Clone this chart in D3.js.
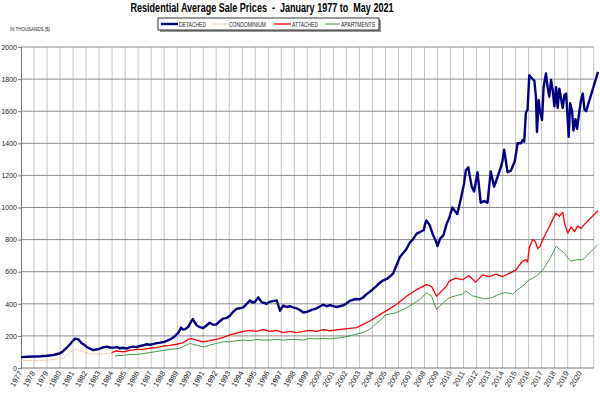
<!DOCTYPE html>
<html><head><meta charset="utf-8">
<script src="https://cdn.jsdelivr.net/npm/d3@7"></script>
<style>html,body{margin:0;padding:0;background:#fff;} svg{display:block;}</style>
</head><body>
<svg id="c" width="600" height="400"></svg>
<script>
const title = "Residential Average Sale Prices  -  January 1977 to  May 2021";
const unitLabel = "IN THOUSANDS ($)";
const seriesNames = ["DETACHED", "CONDOMINIUM", "ATTACHED", "APARTMENTS"];
const yTicks = [0,200,400,600,800,1000,1200,1400,1600,1800,2000];
const yearLabels = d3.range(1977, 2021);

// [year, price in thousands]
const detached = [
[1977.0,68],[1977.5,70],[1978.0,72],[1978.5,73],[1979.0,76],[1979.5,81],[1980.0,92],[1980.25,106],[1980.5,125],[1980.76,148],
[1981.0,170],[1981.14,183],[1981.3,180],[1981.4,179],[1981.55,165],[1981.66,154],[1981.85,145],[1982.04,133],[1982.3,120],[1982.55,112],
[1982.8,115],[1983.06,121],[1983.3,128],[1983.58,133],[1983.85,128],[1984.1,127],[1984.35,130],[1984.6,123],[1984.85,126],[1985.1,121],
[1985.35,128],[1985.6,133],[1985.85,130],[1986.1,137],[1986.35,140],[1986.6,148],[1986.9,145],[1987.2,150],[1987.45,155],[1987.7,158],
[1988.0,163],[1988.2,169],[1988.45,178],[1988.7,190],[1988.9,205],[1989.1,221],[1989.3,252],[1989.45,240],[1989.6,242],[1989.85,255],
[1990.0,280],[1990.2,305],[1990.35,285],[1990.5,265],[1990.75,255],[1991.0,249],[1991.25,265],[1991.5,282],[1991.75,270],[1992.0,271],
[1992.25,290],[1992.54,308],[1992.8,312],[1993.05,325],[1993.3,350],[1993.56,368],[1993.8,372],[1994.08,378],[1994.35,400],[1994.59,421],
[1994.8,408],[1994.97,411],[1995.23,440],[1995.48,411],[1995.7,405],[1995.87,400],[1996.05,410],[1996.25,415],[1996.45,418],[1996.64,421],
[1996.9,357],[1997.15,389],[1997.4,380],[1997.66,385],[1997.9,378],[1998.17,372],[1998.45,360],[1998.69,346],[1998.95,350],[1999.2,357],
[1999.45,365],[1999.71,372],[2000.0,385],[2000.22,394],[2000.5,385],[2000.73,392],[2001.0,385],[2001.24,380],[2001.5,385],[2001.75,390],
[2002.0,402],[2002.25,418],[2002.5,425],[2002.75,430],[2003.0,428],[2003.3,440],[2003.5,457],[2003.8,475],[2004.0,488],[2004.3,510],
[2004.55,530],[2004.8,545],[2005.1,555],[2005.35,570],[2005.6,590],[2005.85,640],[2006.1,690],[2006.35,715],[2006.6,740],[2006.9,785],
[2007.1,800],[2007.4,837],[2007.65,847],[2007.95,860],[2008.05,898],[2008.15,919],[2008.4,890],[2008.65,830],[2008.9,785],[2009.0,760],
[2009.2,806],[2009.45,826],[2009.7,898],[2009.88,930],[2010.14,1000],[2010.52,960],[2010.78,1050],[2011.04,1150],[2011.17,1230],[2011.37,1250],
[2011.47,1200],[2011.63,1130],[2011.81,1100],[2012.07,1220],[2012.32,1030],[2012.58,1040],[2012.84,1030],[2013.09,1225],[2013.35,1130],[2013.61,1190],
[2013.86,1250],[2013.99,1290],[2014.12,1360],[2014.38,1220],[2014.64,1230],[2014.94,1290],[2015.15,1400],[2015.41,1400],[2015.54,1420],[2015.66,1410],
[2015.79,1590],[2015.92,1610],[2016.05,1825],[2016.18,1810],[2016.31,1800],[2016.44,1790],[2016.56,1690],[2016.64,1470],[2016.77,1670],[2016.87,1600],
[2017.03,1545],[2017.15,1750],[2017.33,1835],[2017.46,1750],[2017.59,1690],[2017.72,1795],[2017.85,1730],[2017.98,1630],[2018.11,1750],[2018.23,1620],
[2018.36,1740],[2018.62,1620],[2018.75,1700],[2018.88,1710],[2018.95,1620],[2019.08,1440],[2019.19,1650],[2019.34,1600],[2019.44,1480],[2019.6,1550],
[2019.72,1490],[2019.9,1600],[2020.03,1670],[2020.16,1710],[2020.29,1610],[2020.42,1600],[2021.33,1845]
];
const condominium = [
[1977.0,48],[1977.5,47],[1978.0,46],[1978.46,48],[1979.0,50],[1979.48,52],[1980.0,58],[1980.25,64],[1980.5,78],[1980.76,96],
[1981.0,112],[1981.14,118],[1981.4,112],[1981.8,100],[1982.3,89],[1982.8,85],[1983.3,89],[1983.96,91]
];
const attached = [
[1983.96,96],[1984.34,106],[1984.86,100],[1985.37,110],[1985.88,116],[1986.39,116],[1986.9,123],[1987.42,127],[1987.93,137],[1988.44,141],
[1988.95,148],[1989.46,158],[1989.85,179],[1990.1,183],[1990.49,174],[1991.0,163],[1991.5,170],[1992.0,179],[1992.54,191],[1993.05,206],
[1993.56,217],[1994.08,228],[1994.59,234],[1995.1,228],[1995.61,239],[1996.12,228],[1996.64,234],[1997.15,221],[1997.66,228],[1998.17,221],
[1998.69,228],[1999.2,234],[1999.71,228],[2000.22,239],[2000.73,232],[2001.75,242],[2002.78,252],[2003.8,293],[2004.83,345],[2005.85,396],
[2006.62,447],[2007.39,488],[2008.15,519],[2008.54,509],[2008.92,447],[2009.18,468],[2009.69,509],[2009.88,540],[2010.39,560],[2010.91,550],
[2011.42,575],[2011.94,535],[2012.45,580],[2012.97,570],[2013.48,585],[2014.0,570],[2014.51,590],[2015.02,610],[2015.28,640],[2015.54,665],
[2015.79,675],[2015.92,660],[2016.05,750],[2016.31,800],[2016.51,790],[2016.69,745],[2016.87,755],[2017.08,800],[2017.33,840],[2017.59,880],
[2017.85,925],[2018.11,965],[2018.36,945],[2018.62,970],[2018.75,905],[2019.01,840],[2019.26,880],[2019.52,850],[2019.78,885],[2020.03,870],
[2020.29,895],[2021.33,980]
];
const apartments = [
[1984.22,75],[1984.86,79],[1985.37,83],[1986.14,87],[1986.9,96],[1987.67,106],[1988.44,116],[1989.08,121],[1989.46,133],[1989.85,148],
[1989.98,153],[1990.49,142],[1991.0,131],[1991.5,142],[1992.0,153],[1992.54,163],[1993.05,163],[1993.56,170],[1994.08,174],[1994.59,170],
[1995.1,178],[1995.61,174],[1996.12,174],[1996.64,178],[1997.15,174],[1997.66,178],[1998.17,178],[1998.69,174],[1999.2,185],[1999.71,181],
[2000.22,185],[2000.73,181],[2001.75,191],[2002.78,211],[2003.29,221],[2003.8,242],[2004.83,314],[2004.95,330],[2005.85,345],[2006.87,386],
[2007.64,427],[2008.15,468],[2008.54,447],[2008.92,365],[2009.44,406],[2009.88,437],[2010.39,450],[2010.91,460],[2011.17,480],[2011.68,450],
[2012.19,440],[2012.71,430],[2013.22,440],[2013.74,460],[2014.25,470],[2014.76,460],[2015.02,480],[2015.54,510],[2016.05,550],[2016.56,570],
[2017.08,610],[2017.59,675],[2017.85,715],[2018.11,760],[2018.36,740],[2018.75,715],[2019.01,685],[2019.26,665],[2019.65,675],[2020.16,675],
[2020.29,685],[2021.33,770]
];

const svg = d3.select("#c");
const font = "'Liberation Sans Narrow','Arial Narrow','Liberation Sans',Arial,sans-serif";
const x = d3.scaleLinear().domain([1977, 2021.33]).range([21, 598]);
const y = d3.scaleLinear().domain([0, 2000]).range([368, 47]);
const xEnd = x(2021);

// vertical gridlines
svg.append("g").selectAll("line").data(d3.range(1978, 2022)).join("line")
  .attr("x1", d => x(d)).attr("x2", d => x(d)).attr("y1", y(2000)).attr("y2", y(0))
  .attr("stroke", "#c4c4c4").attr("stroke-width", 1);
// horizontal gridlines
svg.append("g").selectAll("line").data(yTicks.filter(d => d > 0)).join("line")
  .attr("x1", x(1977)).attr("x2", xEnd).attr("y1", d => y(d)).attr("y2", d => y(d))
  .attr("stroke", "#8a8a8a").attr("stroke-width", 1);

// axes
const ya = svg.append("g").attr("transform", `translate(${x(1977)},0)`)
  .call(d3.axisLeft(y).tickValues(yTicks).tickSize(3).tickPadding(1).tickFormat(d3.format("d")));
ya.select(".domain").attr("stroke", "#777");
ya.selectAll(".tick line").attr("stroke", "#777");
ya.selectAll("text").attr("font-family", font).attr("font-size", 7).attr("fill", "#222");

const xa = svg.append("g").attr("transform", `translate(0,${y(0)})`)
  .call(d3.axisBottom(x).tickValues(yearLabels).tickSize(0).tickFormat(d3.format("d")));
xa.select(".domain").attr("stroke", "#777").attr("d", `M${x(1977)},0H${xEnd}`);
xa.selectAll("text").attr("font-family", font).attr("font-size", 7.5).attr("fill", "#222")
  .attr("text-anchor", "end").attr("dy", 0).attr("y", 0)
  .attr("transform", "translate(1,5) rotate(-60)");

// lines
const line = d3.line().x(d => x(d[0])).y(d => y(d[1]));
svg.append("path").datum(condominium).attr("d", line).attr("fill", "none")
  .attr("stroke", "#f4a460").attr("stroke-width", 1).attr("stroke-dasharray", "1.2,1.2");
svg.append("path").datum(apartments).attr("d", line).attr("fill", "none")
  .attr("stroke", "#2f8f2f").attr("stroke-width", 0.9).attr("stroke-linejoin", "round");
svg.append("path").datum(attached).attr("d", line).attr("fill", "none")
  .attr("stroke", "#ff0000").attr("stroke-width", 1.3).attr("stroke-linejoin", "round");
svg.append("path").datum(detached).attr("d", line).attr("fill", "none")
  .attr("stroke", "#000080").attr("stroke-width", 2.4).attr("stroke-linejoin", "round");

// title
svg.append("text").attr("x", 262).attr("y", 12).attr("text-anchor", "middle")
  .attr("font-family", font).attr("font-weight", "bold").attr("font-size", 12)
  .attr("textLength", 263).attr("lengthAdjust", "spacingAndGlyphs")
  .attr("fill", "#000").style("white-space", "pre").text(title);

svg.append("text").attr("x", 10).attr("y", 31).attr("font-family", font).attr("font-size", 5.5)
  .attr("textLength", 40).attr("lengthAdjust", "spacingAndGlyphs")
  .attr("fill", "#222").text(unitLabel);

// legend
const lg = svg.append("g");
lg.append("rect").attr("x", 160).attr("y", 20).attr("width", 221).attr("height", 12).attr("fill", "#999");
lg.append("rect").attr("x", 158).attr("y", 18).attr("width", 221).attr("height", 12)
  .attr("fill", "#fff").attr("stroke", "#000").attr("stroke-width", 0.8);
const legendItems = [
  {name: seriesNames[0], x1: 161, x2: 178, tw: 27, color: "#000080", w: 2.4, dash: null},
  {name: seriesNames[1], x1: 212, x2: 228, tw: 37, color: "#f4a460", w: 1, dash: "1.2,1.2"},
  {name: seriesNames[2], x1: 274, x2: 291, tw: 26, color: "#ff0000", w: 1.3, dash: null},
  {name: seriesNames[3], x1: 325, x2: 340, tw: 34, color: "#2f8f2f", w: 0.9, dash: null}
];
legendItems.forEach(it => {
  lg.append("line").attr("x1", it.x1).attr("x2", it.x2).attr("y1", 24).attr("y2", 24)
    .attr("stroke", it.color).attr("stroke-width", it.w).attr("stroke-dasharray", it.dash);
  lg.append("text").attr("x", it.x2 + 1).attr("y", 26.5).attr("font-family", font)
    .attr("font-size", 6.5).attr("textLength", it.tw).attr("lengthAdjust", "spacingAndGlyphs")
    .attr("fill", "#222").text(it.name);
});
</script>
</body></html>
